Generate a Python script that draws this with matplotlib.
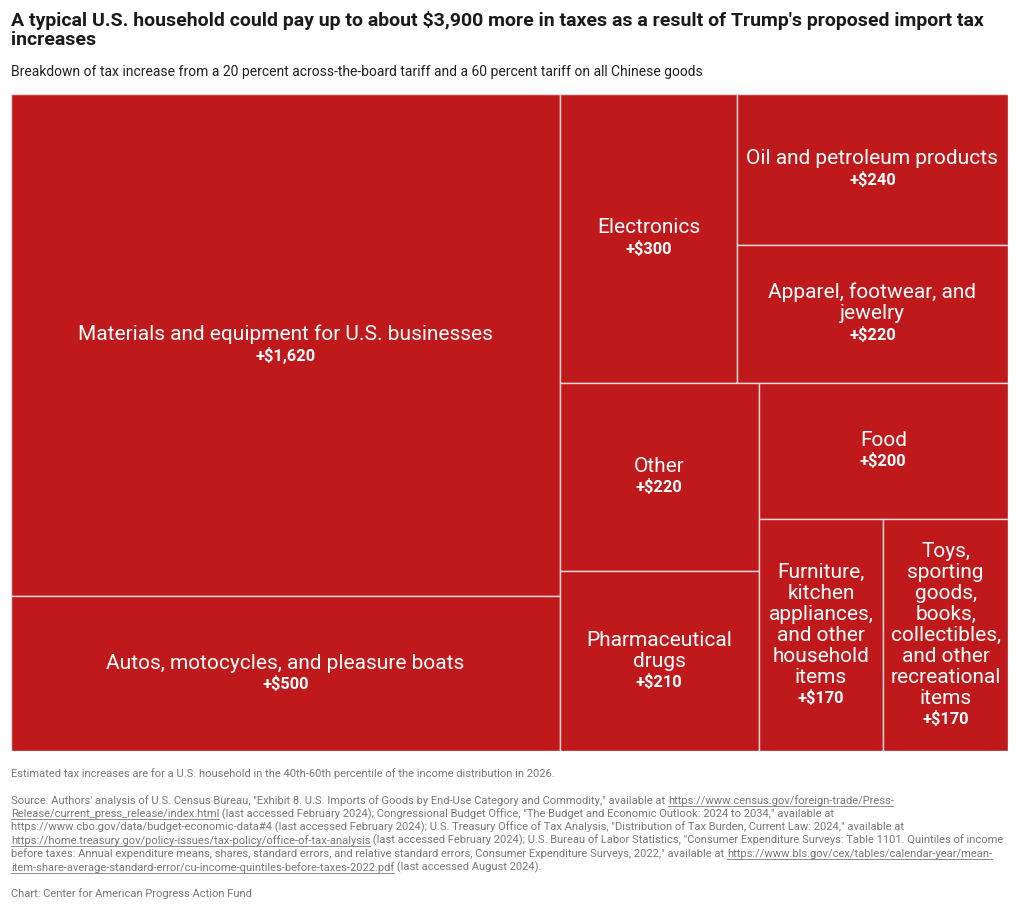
import matplotlib
matplotlib.use("Agg")
import matplotlib.pyplot as plt
from matplotlib.patches import Rectangle

# data
categories = [
    "Materials and equipment for U.S. businesses",
    "Autos, motocycles, and pleasure boats",
    "Electronics",
    "Oil and petroleum products",
    "Apparel, footwear, and\njewelry",
    "Other",
    "Pharmaceutical\ndrugs",
    "Food",
    "Furniture,\nkitchen\nappliances,\nand other\nhousehold\nitems",
    "Toys,\nsporting\ngoods,\nbooks,\ncollectibles,\nand other\nrecreational\nitems",
]
values = [1620, 500, 300, 240, 220, 220, 210, 200, 170, 170]

title_lines = ["A typical U.S. household could pay up to about $3,900 more in taxes as a result of Trump's proposed import tax",
               "increases"]
subtitle = "Breakdown of tax increase from a 20 percent across-the-board tariff and a 60 percent tariff on all Chinese goods"

footer = [
    [("Estimated tax increases are for a U.S. household in the 40th-60th percentile of the income distribution in 2026.", False)],
    None,
    [("Source: Authors' analysis of U.S. Census Bureau, \"Exhibit 8. U.S. Imports of Goods by End-Use Category and Commodity,\" available at ", False),
     ("https://www.census.gov/foreign-trade/Press-", True)],
    [("Release/current_press_release/index.html", True),
     (" (last accessed February 2024); Congressional Budget Office, \"The Budget and Economic Outlook: 2024 to 2034,\" available at", False)],
    [("https://www.cbo.gov/data/budget-economic-data#4 (last accessed February 2024); U.S. Treasury Office of Tax Analysis, \"Distribution of Tax Burden, Current Law: 2024,\" available at", False)],
    [("https://home.treasury.gov/policy-issues/tax-policy/office-of-tax-analysis", True),
     (" (last accessed February 2024); U.S. Bureau of Labor Statistics, \"Consumer Expenditure Surveys: Table 1101. Quintiles of income", False)],
    [("before taxes: Annual expenditure means, shares, standard errors, and relative standard errors, Consumer Expenditure Surveys, 2022,\" available at ", False),
     ("https://www.bls.gov/cex/tables/calendar-year/mean-", True)],
    [("item-share-average-standard-error/cu-income-quintiles-before-taxes-2022.pdf", True),
     (" (last accessed August 2024).", False)],
    None,
    [("Chart: Center for American Progress Action Fund", False)],
]

RED = "#c0191c"
plt.rcParams['font.family'] = ['Roboto', 'DejaVu Sans']

W, H = 1020, 908
fig = plt.figure(figsize=(W / 100, H / 100), dpi=100)

# treemap area in pixels
x0, y0, x1, y1 = 11, 94, 1008, 751
ax = fig.add_axes([x0 / W, 1 - y1 / H, (x1 - x0) / W, (y1 - y0) / H])
ax.set_xlim(0, x1 - x0)
ax.set_ylim(y1 - y0, 0)
ax.axis("off")

# binary treemap layout (same as d3.treemapBinary)
sums = [0]
for v in values:
    sums.append(sums[-1] + v)
rects = [None] * len(values)


def partition(i, j, value, a0, b0, a1, b1):
    if i >= j - 1:
        rects[i] = (a0, b0, a1, b1)
        return
    offset = sums[i]
    target = value / 2 + offset
    k, hi = i + 1, j - 1
    while k < hi:
        mid = (k + hi) // 2
        if sums[mid] < target:
            k = mid + 1
        else:
            hi = mid
    if (target - sums[k - 1]) < (sums[k] - target) and i + 1 < k:
        k -= 1
    vl = sums[k] - offset
    vr = value - vl
    if (a1 - a0) > (b1 - b0):
        ak = (a0 * vr + a1 * vl) / value
        partition(i, k, vl, a0, b0, ak, b1)
        partition(k, j, vr, ak, b0, a1, b1)
    else:
        bk = (b0 * vr + b1 * vl) / value
        partition(i, k, vl, a0, b0, a1, bk)
        partition(k, j, vr, a0, bk, a1, b1)


partition(0, len(values), sums[-1], 0, 0, x1 - x0, y1 - y0)

pitch = 21
for name, val, (a0, b0, a1, b1) in zip(categories, values, rects):
    ax.add_patch(Rectangle((a0, b0), a1 - a0, b1 - b0, facecolor=RED,
                           edgecolor="#f3d6d6", linewidth=1))
    lines = name.split("\n")
    cx = (a0 + a1) / 2
    top = (b0 + b1) / 2 - (len(lines) + 1) * pitch / 2
    for n, line in enumerate(lines):
        ax.text(cx, top + pitch * (n + 0.5), line, color="white", fontsize=15.0,
                ha="center", va="center")
    ax.text(cx, top + pitch * (len(lines) + 0.5), f"+${val:,}", color="white",
            fontsize=11.8, fontweight="bold", ha="center", va="center")

# overlay for texts, pixel coords
ov = fig.add_axes([0, 0, 1, 1], zorder=-1)
ov.set_xlim(0, W)
ov.set_ylim(H, 0)
ov.axis("off")

for n, line in enumerate(title_lines):
    ov.text(11, 26 + 19 * n, line, fontsize=14.0, fontweight="bold", color="#1a1a1a",
            ha="left", va="baseline")
ov.text(11, 72, subtitle, fontsize=10.0, color="#222222", ha="left", va="center")

fig.canvas.draw()
renderer = fig.canvas.get_renderer()
inv = ov.transData.inverted()

fy = 774
for row in footer:
    if row is None:
        fy += 13.3
        continue
    fx = 11
    for txt, link in row:
        t = ov.text(fx, fy, txt, fontsize=8.0, color="#777777", ha="left", va="center")
        bb = t.get_window_extent(renderer)
        (px0, _), (px1, _) = inv.transform([[bb.x0, bb.y0], [bb.x1, bb.y1]])
        if link:
            ov.plot([px0 + 0.5, px1 - 0.5], [fy + 5.5, fy + 5.5], color="#777777", lw=0.6)
        fx = px1
    fy += 13.3

fig.savefig("out.png", dpi=100, facecolor="white")
